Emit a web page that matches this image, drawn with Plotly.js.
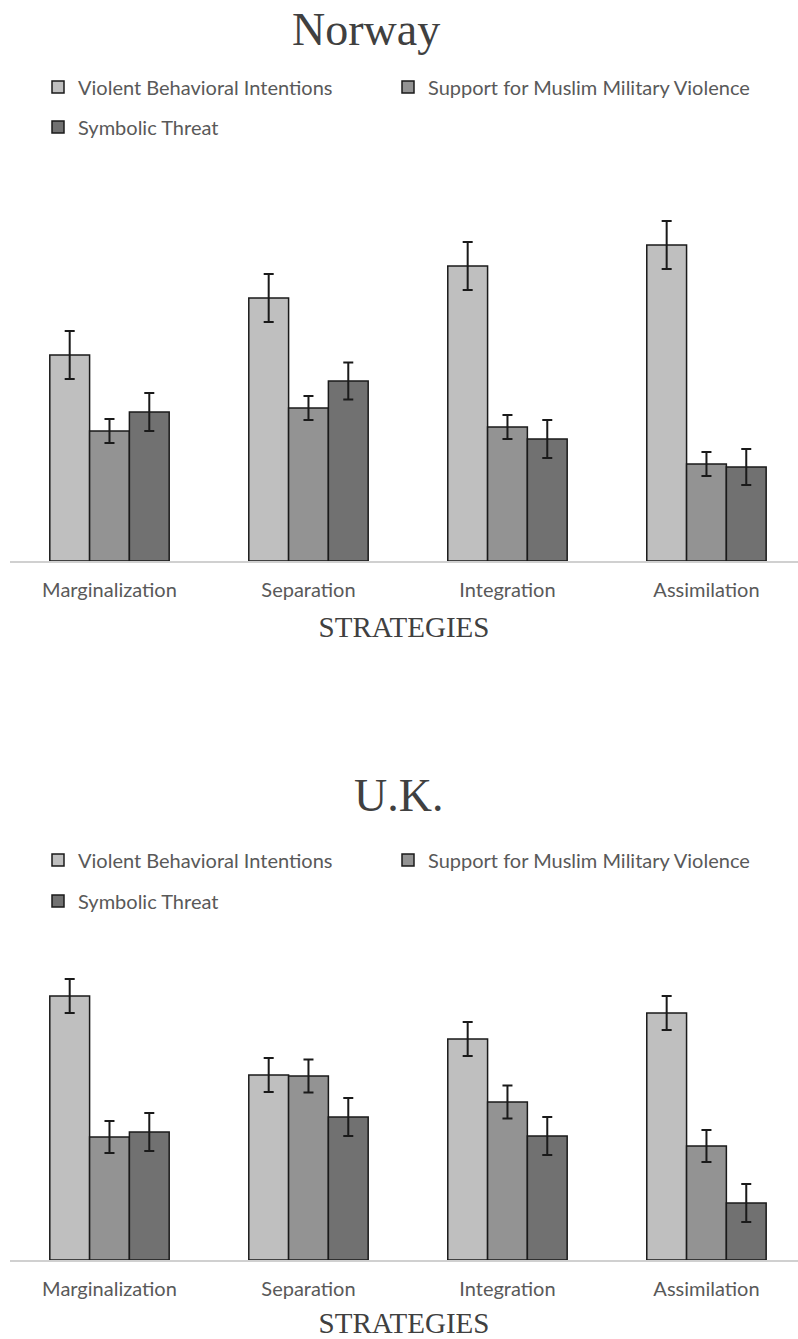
<!DOCTYPE html>
<html>
<head>
<meta charset="utf-8">
<script src="https://cdn.plot.ly/plotly-3.0.1.min.js"></script>
<style>
html,body{margin:0;padding:0;background:#fff;}
#chart{width:798px;height:1339px;}
</style>
</head>
<body>
<div id="chart"></div>
<script>
// ---- data ----
const strategies = ["Marginalization", "Separation", "Integration", "Assimilation"];
const seriesNames = ["Violent Behavioral Intentions", "Support for Muslim Military Violence", "Symbolic Threat"];
const seriesColors = ["#bfbfbf", "#939393", "#717171"];

const norwayVBI = [2.06, 2.63, 2.95, 3.16];
const norwayVBIErr = [0.24, 0.24, 0.24, 0.24];
const norwaySMMV = [1.30, 1.53, 1.34, 0.97];
const norwaySMMVErr = [0.12, 0.12, 0.12, 0.12];
const norwayST = [1.49, 1.80, 1.22, 0.94];
const norwaySTErr = [0.19, 0.185, 0.19, 0.18];

const ukVBI = [2.64, 1.85, 2.21, 2.47];
const ukVBIErr = [0.17, 0.17, 0.17, 0.17];
const ukSMMV = [1.23, 1.84, 1.58, 1.14];
const ukSMMVErr = [0.16, 0.165, 0.165, 0.16];
const ukST = [1.28, 1.43, 1.24, 0.57];
const ukSTErr = [0.19, 0.19, 0.19, 0.19];

const W = 798, H = 1339;
const py = px => 1 - px / H;

function barTrace(i, y, err, xa, ya, legendId) {
  return {
    type: "bar", name: seriesNames[i], x: strategies, y: y,
    xaxis: xa, yaxis: ya, legend: legendId, showlegend: true,
    marker: {color: seriesColors[i], line: {color: "#1a1a1a", width: 1.5}},
    error_y: {type: "data", array: err, visible: true, color: "#1a1a1a", thickness: 2, width: 5},
    hoverinfo: "skip"
  };
}

const data = [
  barTrace(0, norwayVBI, norwayVBIErr, "x", "y", "legend"),
  barTrace(1, norwaySMMV, norwaySMMVErr, "x", "y", "legend2"),
  barTrace(2, norwayST, norwaySTErr, "x", "y", "legend3"),
  barTrace(0, ukVBI, ukVBIErr, "x2", "y2", "legend4"),
  barTrace(1, ukSMMV, ukSMMVErr, "x2", "y2", "legend5"),
  barTrace(2, ukST, ukSTErr, "x2", "y2", "legend6")
];

const tickFont = {family: "Lato, 'Open Sans', sans-serif", size: 20, color: "#595959"};
const serif = "'Liberation Serif', 'Times New Roman', serif";

function xaxisDef(anchor) {
  return {
    anchor: anchor, domain: [10 / W, 1], range: [-0.5, 3.46],
    showline: true, linecolor: "#d0d0d0", linewidth: 2,
    ticks: "", showgrid: false, zeroline: false, fixedrange: true,
    tickfont: tickFont, ticklabelstandoff: 10, automargin: false,
    title: {text: "STRATEGIES", font: {family: serif, size: 29, color: "#404040"}, standoff: 17}
  };
}
function yaxisDef(anchor, top, bottom) {
  return {
    anchor: anchor, domain: [py(bottom), py(top)], range: [0, 4],
    visible: false, showgrid: false, zeroline: false, fixedrange: true
  };
}
function legendDef(xpx, ypx) {
  return {
    visible: true,
    orientation: "h", x: xpx / W, y: py(ypx), xanchor: "left", yanchor: "middle",
    font: tickFont, bgcolor: "rgba(0,0,0,0)", borderwidth: 0, itemwidth: 30,
    traceorder: "normal", itemclick: false, itemdoubleclick: false
  };
}

const layout = {
  width: W, height: H,
  showlegend: true,
  margin: {l: 0, r: 0, t: 0, b: 0, pad: 0},
  paper_bgcolor: "#ffffff", plot_bgcolor: "rgba(0,0,0,0)",
  barmode: "group", bargap: 0.4, bargroupgap: 0,
  xaxis: xaxisDef("y"),
  yaxis: yaxisDef("x", 161, 561),
  xaxis2: xaxisDef("y2"),
  yaxis2: yaxisDef("x2", 860, 1260),
  legend: legendDef(38, 87),
  legend2: legendDef(388, 87),
  legend3: legendDef(38, 127),
  legend4: legendDef(38, 860),
  legend5: legendDef(388, 860),
  legend6: legendDef(38, 901),
  annotations: [
    {text: "Norway", xref: "paper", yref: "paper", x: 366 / W, y: py(30), xanchor: "center", yanchor: "middle",
     showarrow: false, font: {family: serif, size: 46, color: "#404040"}},
    {text: "U.K.", xref: "paper", yref: "paper", x: 398 / W, y: py(795), xanchor: "center", yanchor: "middle",
     showarrow: false, font: {family: serif, size: 46, color: "#404040"}}
  ]
};

Plotly.newPlot("chart", data, layout, {displayModeBar: false, staticPlot: true});
</script>
</body>
</html>
